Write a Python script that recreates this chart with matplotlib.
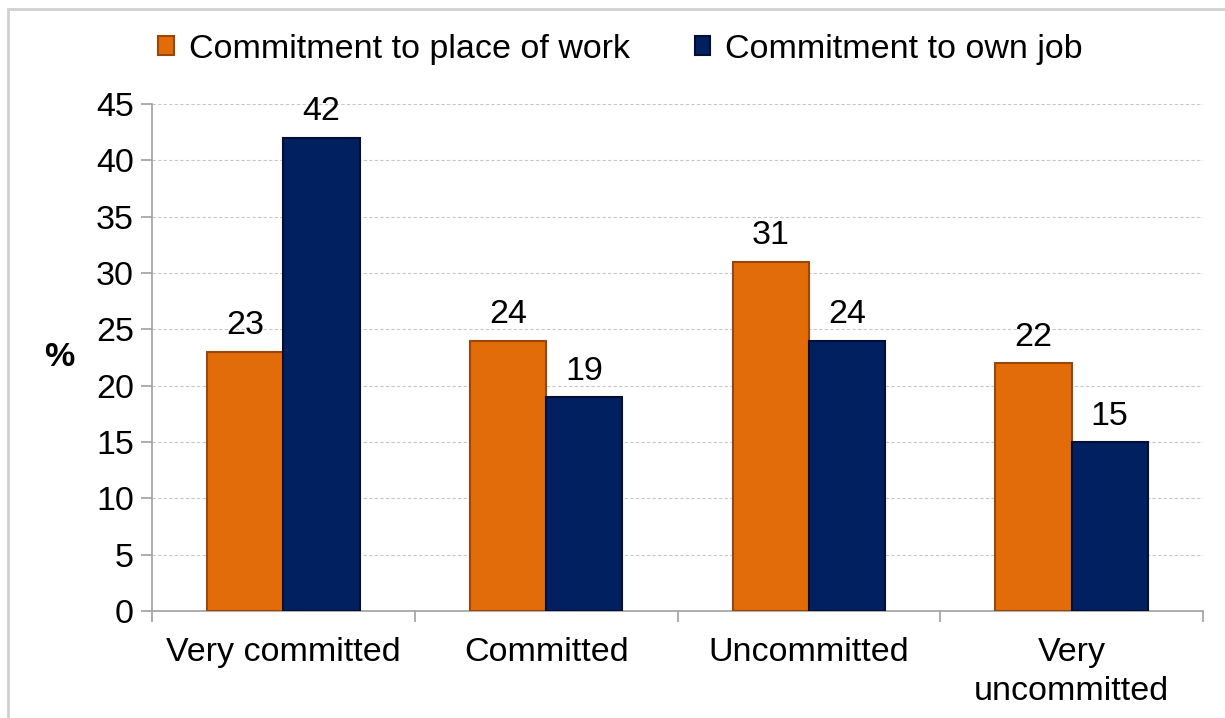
import matplotlib
matplotlib.use("Agg")
import matplotlib.pyplot as plt
import numpy as np
from matplotlib.patches import Rectangle

plt.rcParams['font.family'] = ['Liberation Sans', 'DejaVu Sans']

categories = ["Very committed", "Committed", "Uncommitted", "Very\nuncommitted"]
series_names = ["Commitment to place of work", "Commitment to own job"]
place_of_work = [23, 24, 31, 22]
own_job = [42, 19, 24, 15]
yticks = [0, 5, 10, 15, 20, 25, 30, 35, 40, 45]

orange = "#E36C0A"
orange_edge = "#9A4606"
navy = "#002060"
navy_edge = "#000F33"
FS = 24.5

fig = plt.figure(figsize=(12.25, 7.18), dpi=100)
ax = fig.add_axes([152/1225, 1 - 611/718, (1203-152)/1225, (611-104)/718])

x = np.arange(len(categories))
w = 0.29
b1 = ax.bar(x - w/2, place_of_work, w, color=orange, edgecolor=orange_edge, linewidth=1.5,
            label=series_names[0], zorder=3)
b2 = ax.bar(x + w/2, own_job, w, color=navy, edgecolor=navy_edge, linewidth=1.5,
            label=series_names[1], zorder=3)

for bars, vals in ((b1, place_of_work), (b2, own_job)):
    for r, v in zip(bars, vals):
        ax.annotate(str(v), (r.get_x() + r.get_width()/2, v), xytext=(0, 7.5),
                    textcoords="offset points", ha="center", va="bottom", fontsize=FS)

ax.set_xlim(-0.5, len(categories) - 0.5)
ax.set_ylim(0, 45)
ax.set_yticks(yticks)
ax.set_yticklabels([str(t) for t in yticks], fontsize=FS)
ax.yaxis.grid(True, linestyle=(0, (3, 2)), color="#C8C8C8", linewidth=0.8, zorder=0)

ax.set_xticks(x)
ax.set_xticklabels(categories, fontsize=FS, linespacing=1.3)
ax.tick_params(axis='x', length=0, pad=19)
ax.set_xticks(np.arange(-0.5, len(categories)), minor=True)
ax.tick_params(axis='x', which='minor', length=8, color="#A0A0A0", width=1.2)
ax.tick_params(axis='y', length=8, color="#A0A0A0", width=1.2, pad=5)

for s in ["top", "right"]:
    ax.spines[s].set_visible(False)
for s in ["left", "bottom"]:
    ax.spines[s].set_color("#A0A0A0")
    ax.spines[s].set_linewidth(1.2)

ax.set_ylabel("%", fontsize=FS, fontweight="bold", rotation=0, va="center")
ax.yaxis.set_label_coords(-0.088, 0.5)

leg = ax.legend(loc="center", bbox_to_anchor=(0.446, 1.108), ncol=2, frameon=False,
                fontsize=FS, handlelength=0.45, handleheight=0.45, handletextpad=0.45,
                columnspacing=1.9)

# outer frame
fig.patches.append(Rectangle((8/1225, -0.1), 1.2, 1 - 9/718 + 0.1, transform=fig.transFigure,
                             fill=False, edgecolor="#D0D0D0", linewidth=2))

fig.savefig("out.png", dpi=100)
